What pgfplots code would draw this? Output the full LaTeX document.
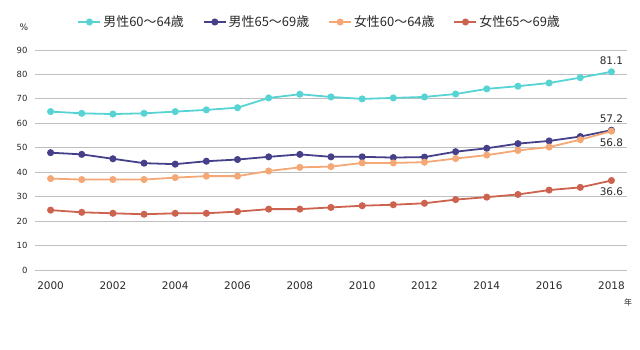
\documentclass[border=0pt]{standalone}
\usepackage{pgfplots}
\pgfplotsset{compat=1.18}
\usepackage{fontspec}
\setmainfont{DejaVu Sans}
\newfontfamily\jp{Noto Sans CJK JP}
\definecolor{cteal}{RGB}{88,211,212}
\definecolor{cnavy}{RGB}{70,64,138}
\definecolor{corange}{RGB}{243,168,118}
\definecolor{cred}{RGB}{205,98,78}
\definecolor{cgrid}{RGB}{191,191,191}
\definecolor{ctext}{RGB}{40,40,40}
\begin{document}
\begin{tikzpicture}
\path[use as bounding box] (0,0) rectangle (640bp,350bp);
\begin{axis}[
  at={(35bp,80bp)}, anchor=south west,
  width=592bp, height=220bp, scale only axis,
  xmin=1999.5, xmax=2018.5, ymin=0, ymax=90,
  xtick={2000,2002,...,2018}, ytick={0,10,...,90},
  axis line style={draw=none},
  major tick length=0pt,
  ymajorgrids, grid style={cgrid, line width=0.9pt},
  /pgf/number format/assume math mode=true,
  /pgf/number format/1000 sep={},
  yticklabel style={font=\fontsize{8.5}{10}\selectfont, text=ctext, xshift=-4bp},
  xticklabel style={font=\fontsize{10.5}{12}\selectfont, text=ctext, yshift=-8bp},
  every axis plot/.append style={line width=1.8pt, mark=*, mark size=2.6pt},
  legend style={at={(0.481,1)}, anchor=center, yshift=28bp, draw=none, fill=none,
    legend columns=4, font=\jp\fontsize{13}{15}\selectfont, text=ctext,
    inner sep=0pt,
    /tikz/every even column/.append style={column sep=17bp}},
  legend image code/.code={\draw[#1, line width=1.8pt] (0bp,0bp) -- (22bp,0bp); \fill[#1] (11bp,0bp) circle (2.6pt);},
  clip=false,
]
\addplot[cteal, mark options={fill=cteal}] coordinates {
(2000,64.8)(2001,64.1)(2002,63.8)(2003,64.1)(2004,64.8)(2005,65.5)(2006,66.4)(2007,70.4)(2008,71.9)(2009,70.8)
(2010,70.0)(2011,70.4)(2012,70.8)(2013,72.0)(2014,74.1)(2015,75.2)(2016,76.5)(2017,78.7)(2018,81.1)};
\addlegendentry{男性60～64歳}
\addplot[cnavy, mark options={fill=cnavy}] coordinates {
(2000,48.0)(2001,47.3)(2002,45.5)(2003,43.7)(2004,43.3)(2005,44.5)(2006,45.2)(2007,46.3)(2008,47.3)(2009,46.3)
(2010,46.3)(2011,46.0)(2012,46.2)(2013,48.4)(2014,49.8)(2015,51.7)(2016,52.8)(2017,54.6)(2018,57.2)};
\addlegendentry{男性65～69歳}
\addplot[corange, mark options={fill=corange}] coordinates {
(2000,37.4)(2001,37.0)(2002,37.0)(2003,37.0)(2004,37.8)(2005,38.4)(2006,38.4)(2007,40.5)(2008,42.0)(2009,42.3)
(2010,43.8)(2011,43.8)(2012,44.1)(2013,45.6)(2014,47.0)(2015,48.9)(2016,50.3)(2017,53.3)(2018,56.8)};
\addlegendentry{女性60～64歳}
\addplot[cred, mark options={fill=cred}] coordinates {
(2000,24.5)(2001,23.6)(2002,23.2)(2003,22.8)(2004,23.2)(2005,23.2)(2006,23.9)(2007,24.9)(2008,24.9)(2009,25.6)
(2010,26.3)(2011,26.7)(2012,27.3)(2013,28.8)(2014,29.8)(2015,30.9)(2016,32.7)(2017,33.8)(2018,36.6)};
\addlegendentry{女性65～69歳}
\node[font=\fontsize{10.5}{12}\selectfont, text=ctext, above=4bp] at (axis cs:2018,81.1) {81.1};
\node[font=\fontsize{10.5}{12}\selectfont, text=ctext, above=4bp] at (axis cs:2018,57.2) {57.2};
\node[font=\fontsize{10.5}{12}\selectfont, text=ctext, below=4bp] at (axis cs:2018,56.8) {56.8};
\node[font=\fontsize{10.5}{12}\selectfont, text=ctext, below=4bp] at (axis cs:2018,36.6) {36.6};
\end{axis}
\node[font=\fontsize{9}{10}\selectfont, text=ctext] at (24bp,323bp) {\%};
\node[font=\jp\fontsize{8}{10}\selectfont, text=ctext] at (628bp,48bp) {年};
\end{tikzpicture}
\end{document}
